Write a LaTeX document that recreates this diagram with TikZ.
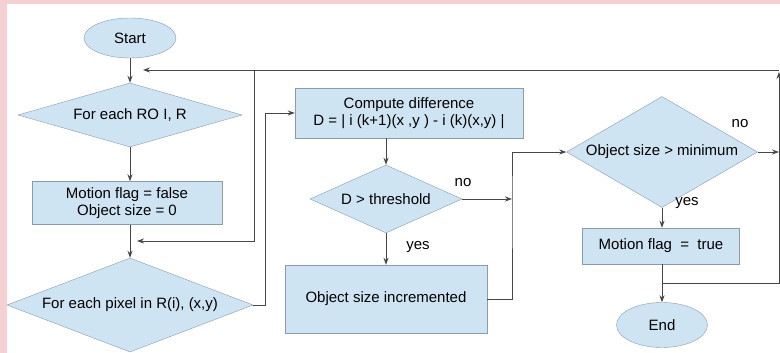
\documentclass[tikz,border=0pt]{standalone}
\usepackage{fontspec}
\setmainfont{Liberation Sans}
\usetikzlibrary{shapes.geometric,arrows.meta}
\definecolor{boxfill}{RGB}{207,228,243}
\definecolor{boxline}{RGB}{140,155,170}
\definecolor{wire}{RGB}{70,70,70}
\definecolor{frame}{RGB}{243,208,210}

\begin{document}
\begin{tikzpicture}[x=1pt,y=-1pt,
  font=\fontsize{15}{17}\selectfont,
  block/.style={draw=boxline,fill=boxfill,rectangle,inner sep=0pt,align=center},
  decision/.style={draw=boxline,fill=boxfill,diamond,inner sep=0pt,align=center},
  terminal/.style={draw=boxline,fill=boxfill,ellipse,inner sep=0pt},
  arr/.style={wire,line width=0.9pt,-{Stealth[length=7pt,width=5pt]}}]
  % frame
  \fill[frame] (0,0) rectangle (780,353);
  \fill[white] (7,4) rectangle (780,353);
  \useasboundingbox (0,0) rectangle (780,353);

  \node[terminal,minimum width=92pt,minimum height=40pt] (start) at (130,38) {Start};
  \node[decision,aspect=3.5,minimum width=224pt,minimum height=64pt] (roi) at (130,115) {For each RO I, R};
  \node[block,minimum width=190pt,minimum height=43pt] (init) at (127,203) {Motion flag = false\\Object size = 0};
  \node[decision,aspect=2.6,minimum width=246pt,minimum height=94pt] (pixel) at (130,305) {For each pixel in R(i), (x,y)};
  \node[block,minimum width=228pt,minimum height=50pt] (diff) at (409,113) {Compute difference\\D = | i (k+1)(x ,y ) - i (k)(x,y) |};
  \node[decision,aspect=2.2,minimum width=152pt,minimum height=68pt] (thr) at (386,199) {D > threshold};
  \node[block,minimum width=202pt,minimum height=68pt] (inc) at (386,299) {Object size incremented};
  \node[decision,aspect=1.7,minimum width=191pt,minimum height=111pt] (minsz) at (662,152) {Object size > minimum};
  \node[block,minimum width=157pt,minimum height=36pt] (flag) at (661,246) {Motion flag~ = ~true};
  \node[terminal,minimum width=91pt,minimum height=45pt] (stop) at (662,325) {End};

  % labels
  \node (thrno) at (463,183) {no};
  \node (thryes) at (418,247) {yes};
  \node (minno) at (740,124) {no};
  \node (minyes) at (687,203) {yes};

  \coordinate (topR) at (779,70);
  \coordinate (topL) at (143,70);
  \coordinate (loopR) at (254,70);
  \coordinate (loopL) at (137,241);
  \coordinate (thrR) at (512,199);
  \coordinate (noR) at (779,152);
  \coordinate (joinL) at (662,283);
  \coordinate (joinR) at (779,283);
  \coordinate (upR) at (779,72);

  \draw[arr] (start) -- (roi);
  \draw[arr] (topR) -- (topL);
  \draw[arr] (loopR) |- (loopL);
  \draw[arr] (roi) -- (roi |- init.north);
  \draw[arr] (roi |- init.south) -- (pixel);
  \draw[arr] (pixel.east) -- ++(12,0) |- (diff.west);
  \draw[arr] (thr |- diff.south) -- (thr);
  \draw[arr] (thr.east) -- (thrR);
  \draw[arr] (thr) -- (inc);
  \draw[arr] (inc.east) -| (thrR) |- (minsz.west);
  \draw[arr] (minsz.east) -- (noR);
  \draw[arr] (minsz) -- (minsz |- flag.north);
  \draw[arr] (minsz |- flag.south) -- (stop);
  \draw[arr] (joinL) -- (joinR) -- (upR);
\end{tikzpicture}
\end{document}
